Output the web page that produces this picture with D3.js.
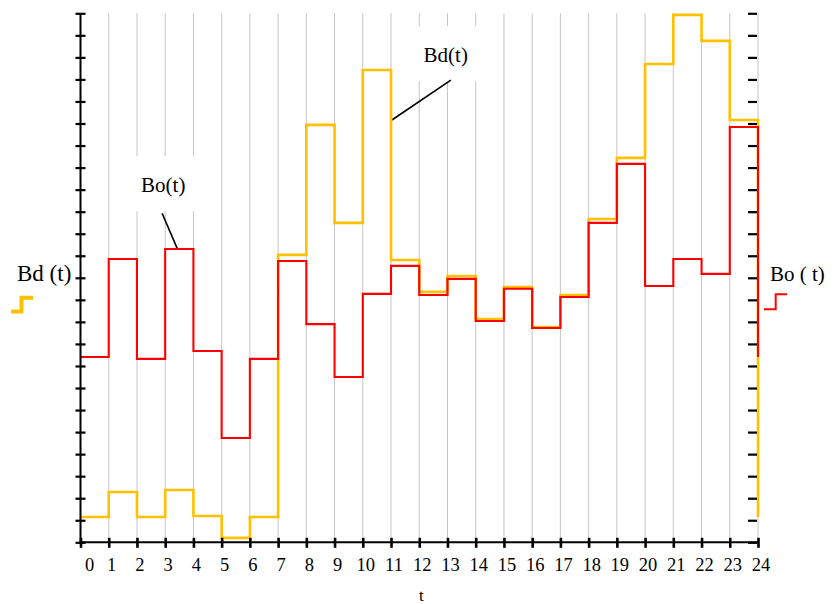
<!DOCTYPE html>
<html>
<head>
<meta charset="utf-8">
<script src="https://cdn.jsdelivr.net/npm/d3@7"></script>
<style>
  body { margin: 0; background: #fff; }
  text { font-family: "Liberation Serif", "Times New Roman", serif; fill: #000; }
</style>
</head>
<body>
<svg id="chart"></svg>
<script>
// hours 0..23, each value holds for one hour
const hours = d3.range(0, 24);
const tLabels = d3.range(0, 25);
const bdValues = [1.15, 2.28, 1.15, 2.37, 1.19, 0.2, 1.15, 13.04, 18.94, 14.49, 21.43, 12.81,
  11.36, 12.08, 10.13, 11.58, 9.77, 11.22, 14.67, 17.44, 21.7, 23.93, 22.75, 19.16];
const boValues = [8.41, 12.85, 8.32, 13.31, 8.68, 4.73, 8.32, 12.76, 9.9, 7.5, 11.27, 12.54,
  11.22, 11.95, 10.04, 11.5, 9.72, 11.13, 14.49, 17.17, 11.63, 12.85, 12.18, 18.84];
const yTicks = d3.range(0, 25);

const width = 840, height = 604;
const marginLeft = 80.5, marginRight = 82, marginTop = 13.3, marginBottom = 61.7;

const svg = d3.select("#chart")
    .attr("width", width)
    .attr("height", height)
    .attr("viewBox", [0, 0, width, height]);

const x = d3.scaleLinear().domain([0, 24]).range([marginLeft, width - marginRight]);
const y = d3.scaleLinear().domain([0, 24]).range([height - marginBottom, marginTop]);

// step series, closed at t=24 back to the value at t=0
const stepPoints = vals => hours.map(h => [h, vals[h]])
    .concat([[24, vals[23]], [24, vals[0]]]);

const line = d3.line()
    .curve(d3.curveStepAfter)
    .x(d => x(d[0]))
    .y(d => y(d[1]));

// vertical grid
svg.append("g")
    .selectAll("line")
    .data(tLabels.slice(1))
    .join("line")
    .attr("x1", d => x(d)).attr("x2", d => x(d))
    .attr("y1", y(24)).attr("y2", y(0))
    .attr("stroke", "#c4c4c4")
    .attr("stroke-width", 1);

// annotation boxes (white, hide the grid), texts and leaders
const notes = [
  { text: "Bd(t)", tx: 12.94, ty: 21.78, from: [13.12, 20.97], to: [11.03, 19.16] },
  { text: "Bo(t)", tx: 2.93, ty: 15.88, from: [2.89, 14.93], to: [3.44, 13.29] }
];
const noteG = svg.append("g");

const series = svg.append("g");
series.append("path")
    .attr("fill", "none")
    .attr("stroke", "#ffc000")
    .attr("stroke-width", 2.6)
    .attr("d", line(stepPoints(bdValues)));
series.append("path")
    .attr("fill", "none")
    .attr("stroke", "#ff0000")
    .attr("stroke-width", 2.1)
    .attr("d", line(stepPoints(boValues)));

notes.forEach(n => {
  const t = noteG.append("text")
      .attr("x", x(n.tx))
      .attr("y", y(n.ty))
      .attr("text-anchor", "middle")
      .attr("font-size", 21)
      .text(n.text);
  const b = t.node().getBBox();
  noteG.insert("rect", "text")
      .attr("x", b.x - 22).attr("y", b.y - 17)
      .attr("width", b.width + 44).attr("height", b.height + 31)
      .attr("fill", "#fff");
  noteG.append("line")
      .attr("x1", x(n.from[0])).attr("y1", y(n.from[1]))
      .attr("x2", x(n.to[0])).attr("y2", y(n.to[1]))
      .attr("stroke", "#000")
      .attr("stroke-width", 1.6);
});

// left axis: ticks crossing the line
svg.append("g")
    .attr("transform", `translate(${marginLeft + 5},0)`)
    .call(d3.axisLeft(y).tickValues(yTicks).tickSize(10).tickFormat(""))
    .call(g => g.select(".domain").remove())
    .call(g => g.selectAll(".tick line").attr("stroke", "#000").attr("stroke-width", 2.2));
svg.append("line")
    .attr("x1", marginLeft).attr("x2", marginLeft)
    .attr("y1", y(24)).attr("y2", y(0))
    .attr("stroke", "#000").attr("stroke-width", 2);

// right axis: ticks only, inside
svg.append("g")
    .attr("transform", `translate(${x(24) - 1},0)`)
    .call(d3.axisLeft(y).tickValues(yTicks).tickSize(9).tickFormat(""))
    .call(g => g.select(".domain").remove())
    .call(g => g.selectAll(".tick line").attr("stroke", "#000").attr("stroke-width", 2.2));

// bottom axis
svg.append("g")
    .attr("transform", `translate(0,${y(0) - 4.5})`)
    .call(d3.axisBottom(x).tickValues(tLabels).tickSize(10).tickFormat(""))
    .call(g => g.select(".domain").remove())
    .call(g => g.selectAll(".tick line").attr("stroke", "#000").attr("stroke-width", 2.6));
svg.append("line")
    .attr("x1", x(0)).attr("x2", x(24))
    .attr("y1", y(0)).attr("y2", y(0))
    .attr("stroke", "#000").attr("stroke-width", 2);

svg.append("g")
    .selectAll("text")
    .data(tLabels)
    .join("text")
    .attr("x", d => x(d) + (d === 0 ? 9 : 3))
    .attr("y", 571)
    .attr("text-anchor", "middle")
    .attr("font-size", 18.5)
    .text(d => d);

svg.append("text")
    .attr("x", x(12) + 2)
    .attr("y", 601)
    .attr("text-anchor", "middle")
    .attr("font-size", 17)
    .text("t");

// side legends with small step icons
svg.append("text")
    .attr("x", 17).attr("y", 281)
    .attr("font-size", 23)
    .text("Bd (t)");
svg.append("path")
    .attr("fill", "none")
    .attr("stroke", "#ffc000")
    .attr("stroke-width", 4)
    .attr("d", "M11,311.5H21.5V297.8H33");

svg.append("text")
    .attr("x", 770).attr("y", 281)
    .attr("font-size", 21)
    .text("Bo ( t)");
svg.append("path")
    .attr("fill", "none")
    .attr("stroke", "#ff0000")
    .attr("stroke-width", 2)
    .attr("d", "M764,309.3H775.7V294.3H787");
</script>
</body>
</html>
